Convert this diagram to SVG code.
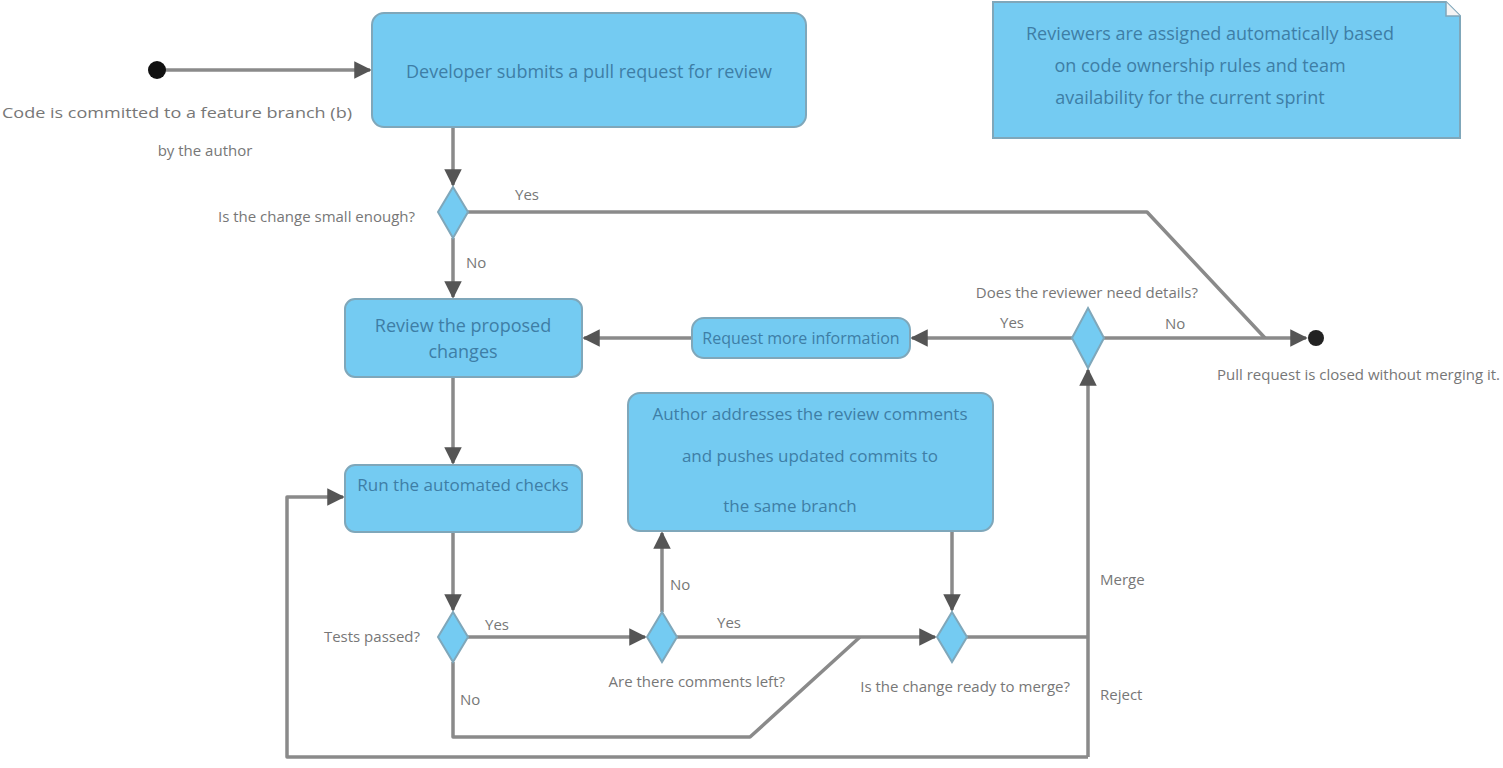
<svg xmlns="http://www.w3.org/2000/svg" width="1503" height="768" viewBox="0 0 1503 768">
<style>
.node{fill:#74CBF2;stroke:#7FA7BA;stroke-width:2}
.ntext{font-family:"Open Sans","Liberation Sans",sans-serif;font-size:18px;fill:#3E7EA6;text-anchor:middle}
.lbl{font-family:"Open Sans","Liberation Sans",sans-serif;font-size:15px;fill:#777}
.edge{fill:none;stroke:#8A8A8A;stroke-width:3.5;stroke-linejoin:round}
.arr{marker-end:url(#ah)}
</style>
<defs>
<marker id="ah" viewBox="0 0 10 10" refX="9" refY="5" markerWidth="5" markerHeight="5" orient="auto" markerUnits="strokeWidth">
<path d="M0,0 L10,5 L0,10 z" fill="#555"/>
</marker>
</defs>
<g id="connectors">
<path class="edge arr" d="M157,70 H370"/>
<path class="edge arr" d="M453,127 V185"/>
<path class="edge" d="M468,212 H1147 L1265,338"/>
<path class="edge arr" d="M453,238 V297"/>
<path class="edge arr" d="M692,338 H584"/>
<path class="edge arr" d="M1072,338 H912"/>
<path class="edge arr" d="M1104,338 H1306"/>
<path class="edge arr" d="M453,377 V463"/>
<path class="edge arr" d="M453,532 V610"/>
<path class="edge arr" d="M468,637 H645"/>
<path class="edge arr" d="M662,612 V533"/>
<path class="edge arr" d="M677,637 H935"/>
<path class="edge arr" d="M952,531 V610"/>
<path class="edge" d="M453,662 V737 H750 L860,637"/>
<path class="edge" d="M967,637 H1088"/>
<path class="edge arr" d="M1088,757 V370"/>
<path class="edge arr" d="M1088,757 H287 V497 H343"/>
</g>
<g id="start"><circle cx="157" cy="70" r="9" fill="#111"/></g>
<g id="end"><circle cx="1316" cy="338" r="8" fill="#222"/></g>
<g id="submit">
<rect class="node" x="372" y="13" width="434" height="114" rx="12"/>
<text class="ntext" x="589" y="78">Developer submits a pull request for review</text>
</g>
<g id="note">
<path class="node" d="M993,2 H1446 L1460,16 V138 H993 Z"/>
<path d="M1446,2 V16 H1460" fill="#f4f4f4" stroke="#7FA7BA" stroke-width="1.5"/>
<text class="ntext" x="1210" y="40">Reviewers are assigned automatically based</text>
<text class="ntext" x="1200" y="72">on code ownership rules and team</text>
<text class="ntext" x="1190" y="104">availability for the current sprint</text>
</g>
<g id="d1"><path class="node" d="M453,187 L468,212 L453,238 L438,212 Z"/></g>
<g id="review">
<rect class="node" x="345" y="299" width="237" height="78" rx="10"/>
<text class="ntext" x="463" y="332">Review the proposed</text>
<text class="ntext" x="463" y="358">changes</text>
</g>
<g id="request">
<rect class="node" x="692" y="318" width="218" height="40" rx="12"/>
<text class="ntext" x="801" y="344" style="font-size:16px">Request more information</text>
</g>
<g id="d2"><path class="node" d="M1088,308 L1104,338 L1088,368 L1072,338 Z"/></g>
<g id="tests">
<rect class="node" x="345" y="465" width="237" height="67" rx="10"/>
<text class="ntext" x="463" y="491" style="font-size:17px">Run the automated checks</text>
</g>
<g id="fix">
<rect class="node" x="628" y="393" width="365" height="138" rx="12"/>
<text class="ntext" x="810" y="420" style="font-size:17px">Author addresses the review comments</text>
<text class="ntext" x="810" y="462" style="font-size:17px">and pushes updated commits to</text>
<text class="ntext" x="790" y="512" style="font-size:17px">the same branch</text>
</g>
<g id="d3"><path class="node" d="M453,612 L468,637 L453,662 L438,637 Z"/></g>
<g id="d4"><path class="node" d="M662,612 L677,637 L662,662 L647,637 Z"/></g>
<g id="d5"><path class="node" d="M952,612 L967,637 L952,662 L937,637 Z"/></g>
<g id="labels">
<text class="lbl" x="2" y="118" textLength="350" lengthAdjust="spacingAndGlyphs">Code is committed to a feature branch (b)</text>
<text class="lbl" x="205" y="156" text-anchor="middle">by the author</text>
<text class="lbl" x="415" y="222" text-anchor="end">Is the change small enough?</text>
<text class="lbl" x="515" y="200">Yes</text>
<text class="lbl" x="466" y="268">No</text>
<text class="lbl" x="1198" y="298" text-anchor="end">Does the reviewer need details?</text>
<text class="lbl" x="1000" y="328">Yes</text>
<text class="lbl" x="1165" y="329">No</text>
<text class="lbl" x="1500" y="380" text-anchor="end">Pull request is closed without merging it.</text>
<text class="lbl" x="420" y="642" text-anchor="end">Tests passed?</text>
<text class="lbl" x="485" y="630">Yes</text>
<text class="lbl" x="670" y="590">No</text>
<text class="lbl" x="717" y="628">Yes</text>
<text class="lbl" x="460" y="705">No</text>
<text class="lbl" x="785" y="687" text-anchor="end">Are there comments left?</text>
<text class="lbl" x="1070" y="692" text-anchor="end">Is the change ready to merge?</text>
<text class="lbl" x="1100" y="585">Merge</text>
<text class="lbl" x="1100" y="700">Reject</text>
</g>
</svg>
